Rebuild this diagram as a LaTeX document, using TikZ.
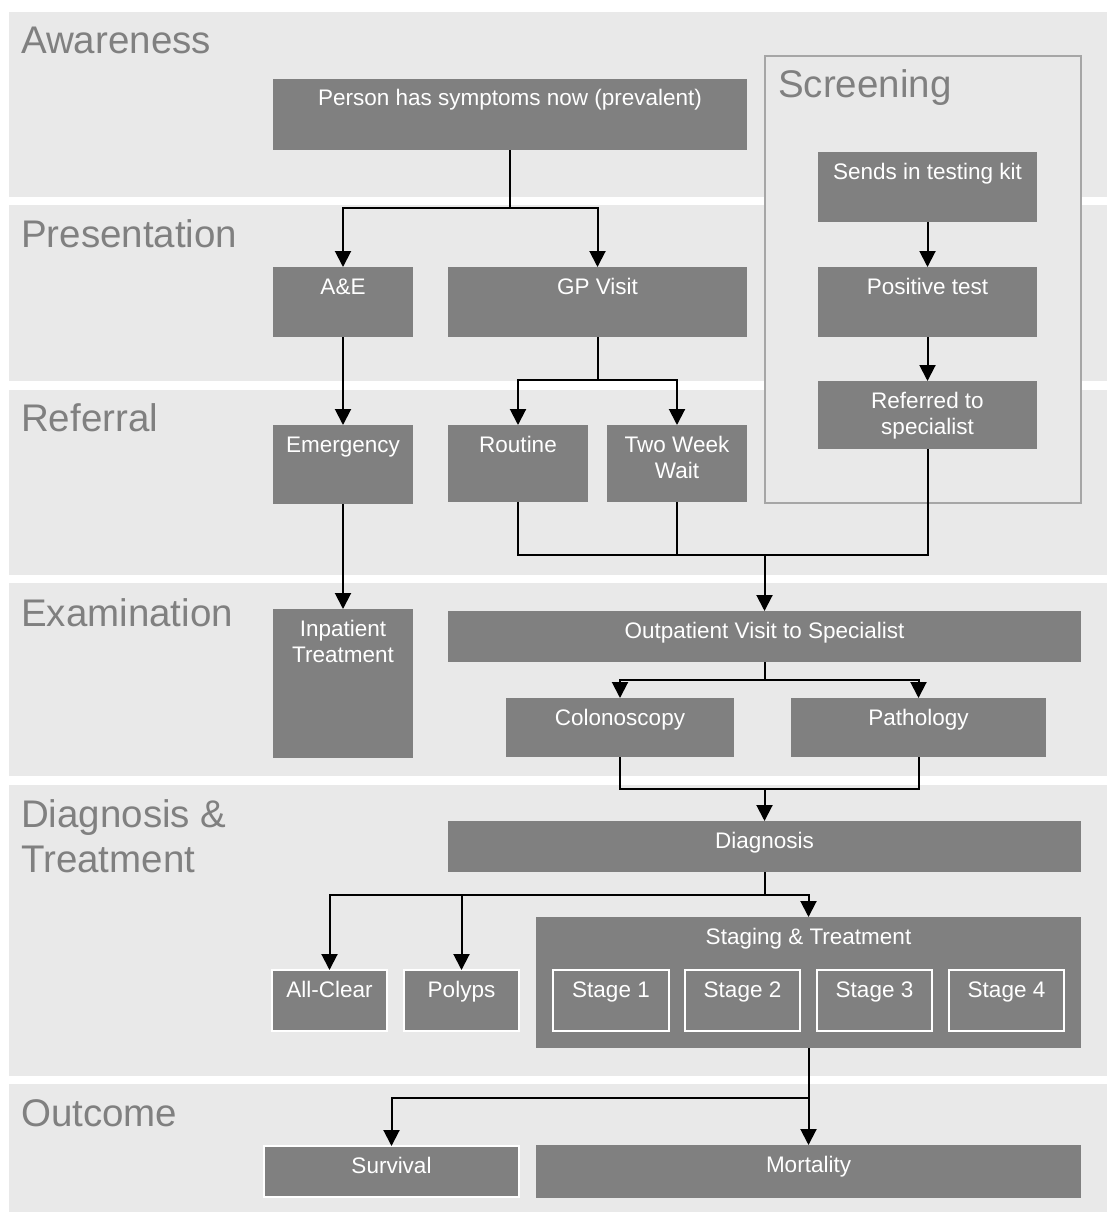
\documentclass[tikz,border=0pt]{standalone}
\usepackage{fontspec}
\setmainfont{Liberation Sans}
\usetikzlibrary{arrows.meta}
\definecolor{bandc}{HTML}{E9E9E9}
\definecolor{boxc}{HTML}{808080}
\definecolor{labc}{HTML}{808080}
\definecolor{scrc}{HTML}{A6A6A6}
\newcommand\flowbox[7][]{%
  \node[boxst,#1,anchor=north west,minimum width={#5-#3},minimum height={#6-#4}] (#2) at (#3,#4) {};
  \node[boxtext,anchor=base] (#2-t) at ([yshift=-27pt]#2.north) {#7};}
\newcommand\twolines[2]{\begin{tabular}[t]{@{}c@{}}#1\\#2\end{tabular}}
\begin{document}
\begin{tikzpicture}[x=1pt,y=-1pt,
  bandst/.style={fill=bandc},
  bandlabel/.style={text=labc,font=\fontsize{38.5}{45}\selectfont,inner sep=0pt,anchor=base west},
  boxst/.style={fill=boxc,draw=none,inner sep=0pt,outer sep=0pt},
  wbox/.style={draw=white,line width=2pt},
  boxtext/.style={text=white,font=\fontsize{22.5}{26}\selectfont,inner sep=0pt},
  scrbox/.style={fill=bandc,draw=scrc,line width=2pt,inner sep=0pt,outer sep=0pt},
  conn/.style={line width=2pt,black},
  arr/.style={conn,-{Triangle[length=16pt,width=16pt]}}]
\useasboundingbox (0,0) rectangle (1107,1212);
% bands
\fill[bandst] (9,12) rectangle (1107,197);
\fill[bandst] (9,205) rectangle (1107,381);
\fill[bandst] (9,390) rectangle (1107,575);
\fill[bandst] (9,583) rectangle (1107,776);
\fill[bandst] (9,785) rectangle (1107,1076);
\fill[bandst] (9,1084) rectangle (1107,1212);
% band labels
\node[bandlabel] (lAware) at (21,54) {Awareness};
\node[bandlabel] (lPres) at (21,247) {Presentation};
\node[bandlabel] (lRef) at (21,431) {Referral};
\node[bandlabel] (lExam) at (21,626) {Examination};
\node[bandlabel] (lDiag1) at (21,827) {Diagnosis \&};
\node[bandlabel] (lDiag2) at (21,872) {Treatment};
\node[bandlabel] (lOut) at (21,1126) {Outcome};
% screening container
\node[scrbox,anchor=north west,minimum width=316,minimum height=447] (screen) at (765,56) {};
\node[bandlabel] (lScreen) at (778,98) {Screening};
% boxes
\flowbox{person}{273}{79}{747}{150}{Person has symptoms now (prevalent)}
\flowbox{kit}{818}{152}{1037}{222}{Sends in testing kit}
\flowbox{ae}{273}{267}{413}{337}{A\&E}
\flowbox{gp}{448}{267}{747}{337}{GP Visit}
\flowbox{pos}{818}{267}{1037}{337}{Positive test}
\flowbox{ref}{818}{381}{1037}{449}{\twolines{Referred to}{specialist}}
\flowbox{emerg}{273}{425}{413}{504}{Emergency}
\flowbox{routine}{448}{425}{588}{502}{Routine}
\flowbox{tww}{607}{425}{747}{502}{\twolines{Two Week}{Wait}}
\flowbox{inpat}{273}{609}{413}{758}{\twolines{Inpatient}{Treatment}}
\flowbox{outp}{448}{611}{1081}{662}{Outpatient Visit to Specialist}
\flowbox{colo}{506}{698}{734}{757}{Colonoscopy}
\flowbox{patho}{791}{698}{1046}{757}{Pathology}
\flowbox{diag}{448}{821}{1081}{872}{Diagnosis}
\flowbox[wbox]{allc}{272}{970}{387}{1031}{All-Clear}
\flowbox[wbox]{polyps}{404}{970}{519}{1031}{Polyps}
\flowbox{staging}{536}{917}{1081}{1048}{Staging \& Treatment}
\flowbox[wbox]{st1}{553}{970}{669}{1031}{Stage 1}
\flowbox[wbox]{st2}{685}{970}{800}{1031}{Stage 2}
\flowbox[wbox]{st3}{817}{970}{932}{1031}{Stage 3}
\flowbox[wbox]{st4}{949}{970}{1064}{1031}{Stage 4}
\flowbox[wbox]{surv}{264}{1146}{519}{1197}{Survival}
\flowbox{mort}{536}{1145}{1081}{1198}{Mortality}
% junctions
\coordinate (j1) at (510,208);
\coordinate (j2) at (597.5,380);
\coordinate (j3) at (764.5,555);
\coordinate (j4) at (764.5,680);
\coordinate (j5) at (764.5,789);
\coordinate (j6) at (764.5,895);
\coordinate (j7) at (808.5,1098);
% connectors
\draw[conn] (person.south) -- (j1);
\draw[arr] (j1) -| (ae.north);
\draw[arr] (j1) -| (gp.north);
\draw[arr] (kit.south) -- (pos.north);
\draw[arr] (pos.south) -- (ref.north);
\draw[arr] (ae.south) -- (emerg.north);
\draw[conn] (gp.south) -- (j2);
\draw[arr] (j2) -| (routine.north);
\draw[arr] (j2) -| (tww.north);
\draw[conn] (routine.south) -- (routine.south |- j3) -- (ref.south |- j3) -- (ref.south);
\draw[conn] (tww.south) -- (tww.south |- j3);
\draw[arr] (j3) -- (outp.north);
\draw[arr] (emerg.south) -- (inpat.north);
\draw[conn] (outp.south) -- (j4);
\draw[arr] (j4) -| (colo.north);
\draw[arr] (j4) -| (patho.north);
\draw[conn] (colo.south) -- (colo.south |- j5) -- (patho.south |- j5) -- (patho.south);
\draw[arr] (j5) -- (diag.north);
\draw[conn] (diag.south) -- (j6);
\draw[arr] (j6) -| (allc.north);
\draw[arr] (j6) -| (polyps.north);
\draw[arr] (j6) -| (staging.north);
\draw[arr] (staging.south) -- (mort.north);
\draw[arr] (j7) -| (surv.north);
\end{tikzpicture}
\end{document}
